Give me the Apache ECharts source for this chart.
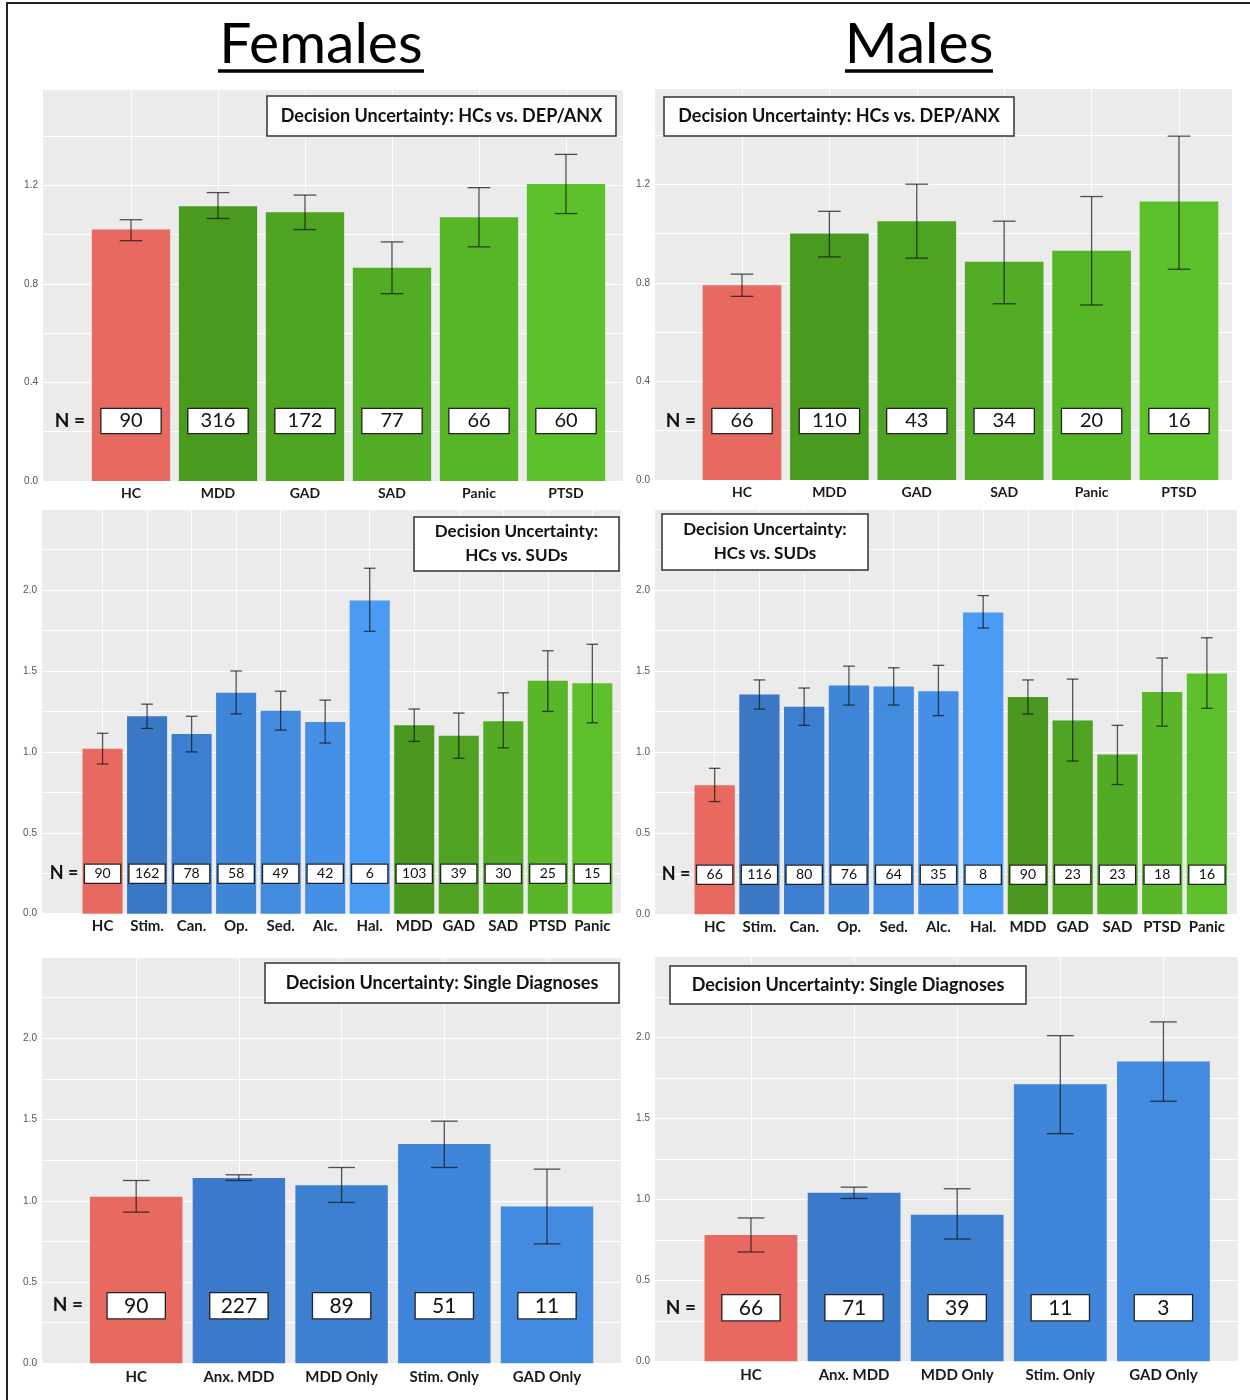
<!DOCTYPE html>
<html><head><meta charset="utf-8">
<script src="https://cdn.jsdelivr.net/npm/echarts@6/dist/echarts.min.js"></script>
<style>html,body{margin:0;padding:0;background:#fff}#c{width:1250px;height:1400px}</style>
</head><body><div id="c"></div>
<script>
// ---------- DATA ----------
const topCats = ['HC','MDD','GAD','SAD','Panic','PTSD'];
const femTopMean = [1.02, 1.115, 1.09, 0.865, 1.07, 1.205];
const femTopLow  = [0.975, 1.065, 1.02, 0.76, 0.95, 1.085];
const femTopHigh = [1.06, 1.17, 1.16, 0.97, 1.19, 1.325];
const femTopN    = [90, 316, 172, 77, 66, 60];

const malTopMean = [0.79, 1.00, 1.05, 0.885, 0.93, 1.13];
const malTopLow  = [0.745, 0.905, 0.90, 0.715, 0.71, 0.855];
const malTopHigh = [0.835, 1.09, 1.20, 1.05, 1.15, 1.395];
const malTopN    = [66, 110, 43, 34, 20, 16];

const midCats = ['HC','Stim.','Can.','Op.','Sed.','Alc.','Hal.','MDD','GAD','SAD','PTSD','Panic'];
const femMidMean = [1.02, 1.22, 1.11, 1.365, 1.255, 1.185, 1.935, 1.165, 1.10, 1.19, 1.44, 1.425];
const femMidLow  = [0.925, 1.145, 1.0, 1.235, 1.135, 1.055, 1.745, 1.065, 0.96, 1.025, 1.25, 1.18];
const femMidHigh = [1.115, 1.295, 1.22, 1.50, 1.375, 1.32, 2.135, 1.265, 1.24, 1.365, 1.625, 1.665];
const femMidN    = [90, 162, 78, 58, 49, 42, 6, 103, 39, 30, 25, 15];

const malMidMean = [0.795, 1.355, 1.28, 1.41, 1.405, 1.375, 1.86, 1.34, 1.195, 0.985, 1.37, 1.485];
const malMidLow  = [0.695, 1.265, 1.165, 1.29, 1.29, 1.225, 1.765, 1.235, 0.945, 0.80, 1.16, 1.27];
const malMidHigh = [0.90, 1.445, 1.395, 1.53, 1.52, 1.535, 1.965, 1.445, 1.45, 1.165, 1.58, 1.705];
const malMidN    = [66, 116, 80, 76, 64, 35, 8, 90, 23, 23, 18, 16];

const botCats = ['HC','Anx. MDD','MDD Only','Stim. Only','GAD Only'];
const femBotMean = [1.025, 1.14, 1.095, 1.35, 0.965];
const femBotLow  = [0.93, 1.125, 0.99, 1.205, 0.735];
const femBotHigh = [1.125, 1.16, 1.205, 1.49, 1.195];
const femBotN    = [90, 227, 89, 51, 11];

const malBotMean = [0.78, 1.04, 0.905, 1.71, 1.85];
const malBotLow  = [0.675, 1.005, 0.755, 1.405, 1.605];
const malBotHigh = [0.885, 1.075, 1.065, 2.01, 2.095];
const malBotN    = [66, 71, 39, 11, 3];

const titleTop = 'Decision Uncertainty: HCs vs. DEP/ANX';
const titleMid = 'Decision Uncertainty:\nHCs vs. SUDs';
const titleBot = 'Decision Uncertainty: Single Diagnoses';

// ---------- STYLE ----------
const RED = '#E8695F';
const topColors = [RED,'#4A9A1F','#4EA322','#52AC25','#57B628','#5DC12B'];
const midColors = [RED,'#3A78C6','#3C7ECF','#3F85D8','#428BDF','#4590E6','#4A9BF4','#4A981F','#4FA222','#53AB25','#58B628','#5DC02B'];
const botColors = [RED,'#3B7ACA','#3D80D2','#3F85D9','#428BE1'];
const FONT = 'Lato';

// layout per panel
const panels = [
  {cats:topCats, mean:femTopMean, low:femTopLow, high:femTopHigh, n:femTopN, colors:topColors,
   grayL:43, grayR:623, base:481, ppu:246.5, max:1.59, step:0.2, lab:0.4, barL:87.5, barR:609.5,
   nDist:48, nW:59, nH:24, nFont:20, catFont:14, catMargin:5,
   nx:70, ny:421, nSize:19, title:titleTop, box:[267,96,349,40], tc:[441.5,116], tFont:18},
  {cats:topCats, mean:malTopMean, low:malTopLow, high:malTopHigh, n:malTopN, colors:topColors,
   grayL:655, grayR:1232, base:480, ppu:246.5, max:1.59, step:0.2, lab:0.4, barL:698.3, barR:1222.7,
   nDist:47, nW:59, nH:24, nFont:20, catFont:14, catMargin:5,
   nx:681, ny:421, nSize:19, title:titleTop, box:[664,97,350,39], tc:[839,116.5], tFont:18},
  {cats:midCats, mean:femMidMean, low:femMidLow, high:femMidHigh, n:femMidN, colors:midColors,
   grayL:42, grayR:621, base:913.7, ppu:161.8, max:2.5, step:0.25, lab:0.5, barL:80.3, barR:614.6,
   nDist:31, nW:35, nH:18, nFont:14, catFont:15, catMargin:5,
   nx:64, ny:873, nSize:18, title:titleMid, box:[414,517,205,54], tc:[516.5,544], tFont:17},
  {cats:midCats, mean:malMidMean, low:malMidLow, high:malMidHigh, n:malMidN, colors:midColors,
   grayL:655, grayR:1237, base:914.3, ppu:162.2, max:2.5, step:0.25, lab:0.5, barL:692.3, barR:1229.3,
   nDist:30.5, nW:35, nH:18, nFont:14, catFont:15, catMargin:5,
   nx:676, ny:874, nSize:18, title:titleMid, box:[662,514,206,56], tc:[765,542], tFont:17},
  {cats:botCats, mean:femBotMean, low:femBotLow, high:femBotHigh, n:femBotN, colors:botColors,
   grayL:42, grayR:621, base:1363.3, ppu:162.5, max:2.5, step:0.25, lab:0.5, barL:84.85, barR:598.35,
   nDist:45, nW:57, nH:25, nFont:21, catFont:15, catMargin:6,
   nx:68, ny:1305, nSize:19, title:titleBot, box:[265,963,354,40], tc:[442,983], tFont:18},
  {cats:botCats, mean:malBotMean, low:malBotLow, high:malBotHigh, n:malBotN, colors:botColors,
   grayL:655, grayR:1238, base:1361.3, ppu:162, max:2.5, step:0.25, lab:0.5, barL:699.4, barR:1215,
   nDist:41, nW:57, nH:25, nFont:21, catFont:15, catMargin:6,
   nx:681, ny:1308, nSize:19, title:titleBot, box:[670,966,356,38], tc:[848,985], tFont:18}
];

const H = 1400;
const grid = [], xAxis = [], yAxis = [], series = [], graphic = [];

panels.forEach((p, i) => {
  const top = p.base - p.max * p.ppu;
  const bottom = H - p.base;
  const gi = 2 * i, bi = 2 * i + 1;
  grid.push({left: p.grayL, top: top, width: p.grayR - p.grayL, bottom: bottom,
             show: true, backgroundColor: '#EBEBEB', borderWidth: 0});
  grid.push({left: p.barL, top: top, width: p.barR - p.barL, bottom: bottom});
  xAxis.push({gridIndex: gi, type: 'value', show: false});
  yAxis.push({gridIndex: gi, type: 'value', min: 0, max: p.max, interval: p.step,
    axisLine: {show: false}, axisTick: {show: false},
    splitLine: {show: true, lineStyle: {color: '#FFFFFF', width: 1}},
    axisLabel: {showMaxLabel: false, fontSize: 10, color: '#555', margin: 5, fontFamily: 'Liberation Sans',
      formatter: v => { const r = v / p.lab; return Math.abs(r - Math.round(r)) < 1e-6 ? v.toFixed(1) : ''; }}});
  xAxis.push({gridIndex: bi, type: 'category', data: p.cats,
    axisLine: {show: false}, axisTick: {show: false},
    splitLine: {show: true, alignWithLabel: true, lineStyle: {color: 'rgba(255,255,255,0.85)', width: 1}},
    axisLabel: {interval: 0, fontFamily: FONT, fontWeight: 'bold', fontSize: p.catFont, color: '#1a1a1a', margin: p.catMargin}});
  yAxis.push({gridIndex: bi, type: 'value', min: 0, max: p.max, show: false});

  series.push({type: 'bar', xAxisIndex: bi, yAxisIndex: bi, barCategoryGap: '10%',
    data: p.mean.map((v, k) => ({value: v, itemStyle: {color: p.colors[k]}})),
    label: {show: true, position: 'insideBottom', distance: p.nDist,
      formatter: prm => String(p.n[prm.dataIndex]),
      fontFamily: FONT, fontSize: p.nFont, color: '#111',
      backgroundColor: '#FFFFFF', borderColor: '#222', borderWidth: 1.3,
      width: p.nW, height: p.nH, lineHeight: p.nH, align: 'center'},
    z: 2});
  series.push({type: 'custom', xAxisIndex: bi, yAxisIndex: bi, z: 4,
    data: p.cats.map((c, k) => [k, p.low[k], p.high[k]]),
    renderItem: (params, api) => {
      const x = api.value(0);
      const a = api.coord([x, api.value(1)]);
      const b = api.coord([x, api.value(2)]);
      const cap = api.size([1, 0])[0] * 0.13;
      const st = {stroke: 'rgba(20,20,20,0.72)', lineWidth: 1.3};
      return {type: 'group', children: [
        {type: 'line', shape: {x1: a[0], y1: a[1], x2: b[0], y2: b[1]}, style: st},
        {type: 'line', shape: {x1: a[0] - cap, y1: a[1], x2: a[0] + cap, y2: a[1]}, style: st},
        {type: 'line', shape: {x1: b[0] - cap, y1: b[1], x2: b[0] + cap, y2: b[1]}, style: st}
      ]};
    }});

  graphic.push({type: 'text', x: p.nx, y: p.ny, z: 10,
    style: {text: 'N =', font: 'bold ' + p.nSize + 'px ' + FONT, fill: '#111', align: 'center', verticalAlign: 'middle'}});
  graphic.push({type: 'rect', z: 10, shape: {x: p.box[0], y: p.box[1], width: p.box[2], height: p.box[3]},
    style: {fill: '#FFFFFF', stroke: '#333', lineWidth: 1.5}});
  graphic.push({type: 'text', x: p.tc[0], y: p.tc[1], z: 11,
    style: {text: p.title, font: 'bold ' + p.tFont + 'px ' + FONT, fill: '#111', align: 'center', verticalAlign: 'middle', lineHeight: 24}});
});

// frame, column titles
graphic.push({type: 'polyline', z: 10, shape: {points: [[7, 1400], [7, 3], [1250, 3]]}, style: {stroke: '#222', lineWidth: 2, fill: null}});
graphic.push({type: 'text', x: 321, y: 45, z: 10, style: {text: 'Females', font: '57px ' + FONT, fill: '#000', align: 'center', verticalAlign: 'middle'}});
graphic.push({type: 'text', x: 919, y: 45, z: 10, style: {text: 'Males', font: '57px ' + FONT, fill: '#000', align: 'center', verticalAlign: 'middle'}});
graphic.push({type: 'line', z: 10, shape: {x1: 218, y1: 71, x2: 424, y2: 71}, style: {stroke: '#000', lineWidth: 3.3}});
graphic.push({type: 'line', z: 10, shape: {x1: 845, y1: 71, x2: 993, y2: 71}, style: {stroke: '#000', lineWidth: 3.3}});

const chart = echarts.init(document.getElementById('c'), null, {renderer: 'canvas'});
chart.setOption({animation: false, backgroundColor: '#FFFFFF', grid, xAxis, yAxis, series, graphic});
</script></body></html>
